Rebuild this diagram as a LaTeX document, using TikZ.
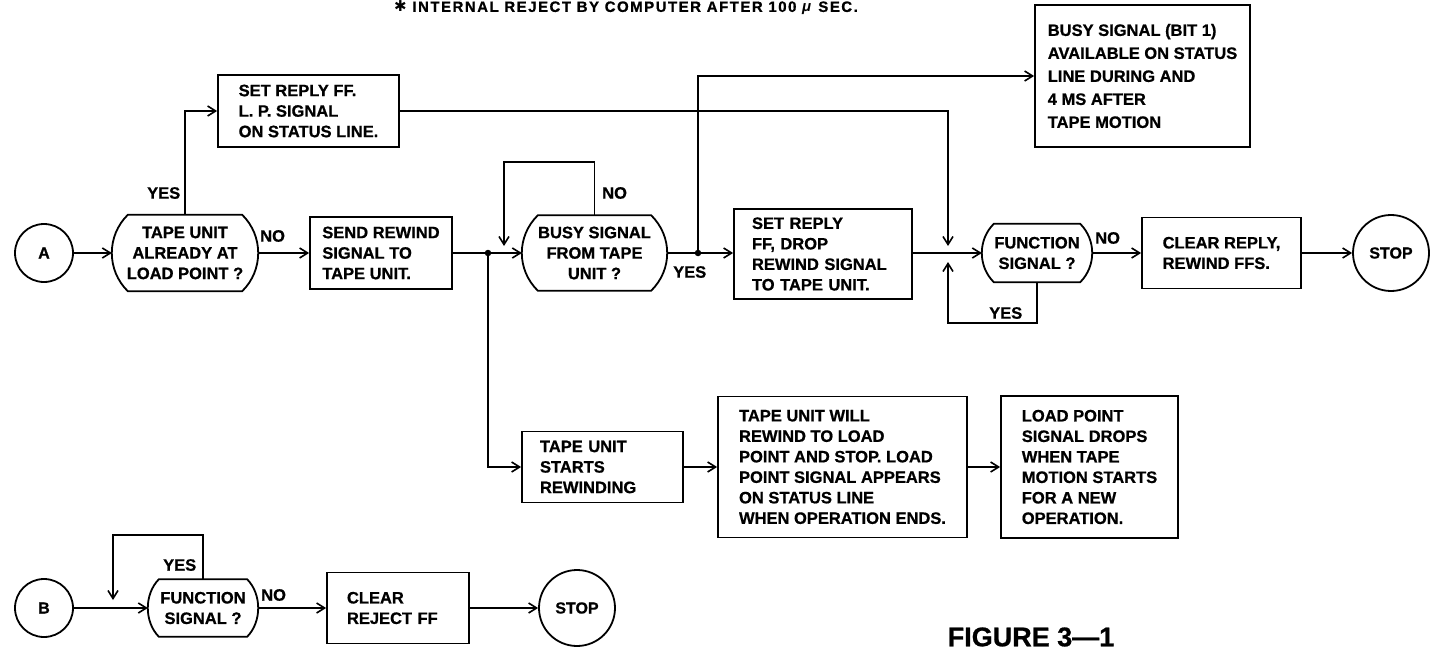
\documentclass[tikz,border=0pt]{standalone}
\usepackage{fontspec}
\setmainfont{Liberation Sans}[BoldFeatures={FakeBold=0.8}]
\newfontfamily\symfont{DejaVu Sans}
\newfontfamily\titlefont{Liberation Sans}[LetterSpace=10,BoldFeatures={FakeBold=0.8}]
\usetikzlibrary{arrows.meta,calc}
\tikzset{
  every node/.style={font=\bfseries\fontsize{16.5}{20.5}\selectfont},
  ln/.style={line width=1.8pt},
  arr/.style={ln, -{Straight Barb[length=8pt,width=10pt,line width=1.6pt]}},
  term/.style={draw, ln, circle, inner sep=0pt, font=\bfseries\fontsize{16}{19}\selectfont},
  box/.style={draw, ln, align=left, inner ysep=0pt},
  dec/.style={inner sep=0pt, align=center},
  lab/.style={inner sep=0pt, anchor=west},
  jdot/.style={circle, fill, inner sep=0pt, minimum size=6.5pt},
}
\newcommand\decout[3]{%
  \draw[ln] ($(#1.north west)+(#2,0)$) -- ($(#1.north east)+(-#2,0)$)
    .. controls ($(#1.north east)+(#2/3,#3)$) and ($(#1.south east)+(#2/3,-#3)$) .. ($(#1.south east)+(-#2,0)$)
    -- ($(#1.south west)+(#2,0)$)
    .. controls ($(#1.south west)+(-#2/3,-#3)$) and ($(#1.north west)+(-#2/3,#3)$) .. cycle;}
\begin{document}
\begin{tikzpicture}[x=1pt,y=-1pt]
\useasboundingbox (0,0) rectangle (1437,655);
\fill[white] (0,0) rectangle (1437,655);

% title
\node[font=\titlefont\bfseries\fontsize{15}{18}\selectfont] (title) at (626,8) {{\symfont\mdseries ✱} INTERNAL REJECT BY COMPUTER AFTER 100 \textit{μ} SEC.};

% main row
\node[term, minimum size=58pt] (A) at (44,253) {A};
\node[dec, minimum width=146pt, minimum height=76pt] (d1) at (185,253) {TAPE UNIT\\ALREADY AT\\LOAD POINT ?};
\decout{d1}{16}{21}
\node[box, minimum width=181pt, minimum height=72pt] (lp) at (308.5,111) {SET REPLY FF.\\L. P. SIGNAL\\ON STATUS LINE.};
\node[box, minimum width=142pt, minimum height=72pt] (send) at (381,253) {SEND REWIND\\SIGNAL TO\\TAPE UNIT.};
\node[jdot] (j1) at (488,253) {};
\node[dec, minimum width=145pt, minimum height=75pt] (busy) at (594.5,253) {BUSY SIGNAL\\FROM TAPE\\UNIT ?};
\decout{busy}{16}{21}
\node[jdot] (j2) at (698,253) {};
\node[box, minimum width=215pt, minimum height=142pt, font=\bfseries\fontsize{16.5}{23}\selectfont] (bit) at (1142.5,76) {BUSY SIGNAL (BIT 1)\\AVAILABLE ON STATUS\\LINE DURING AND\\4 MS AFTER\\TAPE MOTION};
\node[box, minimum height=90pt, text width=142pt, inner xsep=18pt] (drop) at (823,254) {SET REPLY\\FF, DROP\\REWIND SIGNAL\\TO TAPE UNIT.};
\node[dec, minimum width=110pt, minimum height=58pt] (fn) at (1037,253) {FUNCTION\\SIGNAL ?};
\decout{fn}{12}{16}
\node[box, minimum width=159pt, minimum height=71pt] (clr) at (1221.5,253) {CLEAR REPLY,\\REWIND FFS.};
\node[term, minimum size=76pt] (stop) at (1391,253) {STOP};

% lower row
\node[box, minimum height=71pt, text width=125pt, inner xsep=18pt] (rw) at (602.5,467) {TAPE UNIT\\STARTS\\REWINDING};
\node[box, minimum width=249pt, minimum height=141pt] (big) at (842.5,467) {TAPE UNIT WILL\\REWIND TO LOAD\\POINT AND STOP. LOAD\\POINT SIGNAL APPEARS\\ON STATUS LINE\\WHEN OPERATION ENDS.};
\node[box, minimum width=177pt, minimum height=142pt] (lpd) at (1089.5,467) {LOAD POINT\\SIGNAL DROPS\\WHEN TAPE\\MOTION STARTS\\FOR A NEW\\OPERATION.};

% B row
\node[term, minimum size=58pt] (B) at (44,608) {B};
\node[dec, minimum width=110pt, minimum height=57pt] (fnb) at (203,608) {FUNCTION\\SIGNAL ?};
\decout{fnb}{11}{15}
\node[box, minimum height=71pt, text width=102pt, inner xsep=20pt] (crj) at (398,608) {CLEAR\\REJECT FF};
\node[term, minimum size=76pt] (stopb) at (577,608) {STOP};

\node[font=\bfseries\fontsize{27}{30}\selectfont] (fig) at (1031,637) {FIGURE 3—1};

% labels
\node[lab] (yes1) at (147,193) {YES};
\node[lab] (no1) at (260,236) {NO};
\node[lab] (no2) at (602,193) {NO};
\node[lab] (yes2) at (673,272) {YES};
\node[lab] (yes3) at (989,313) {YES};
\node[lab] (no3) at (1095,238) {NO};
\node[lab] (yes4) at (163,565) {YES};
\node[lab] (no4) at (261,595) {NO};

% free ends
\coordinate (c1) at (948,246);
\coordinate (c2) at (504,246);
\coordinate (c3) at (948,262);
\coordinate (c4) at (113,600);

% connectors main
\draw[arr] (A) -- (d1);
\draw[arr] (d1) -- (send);
\draw[ln] (send) -- (j1);
\draw[arr] (j1) -- (busy);
\draw[ln] (busy) -- (j2);
\draw[arr] (j2) -- (drop.west |- j2);
\draw[arr] (drop.east |- fn.west) -- (fn.west);
\draw[arr] (fn) -- (clr);
\draw[arr] (clr) -- (stop);
\draw[arr] (d1.north) |- (lp.west);
\draw[arr] (lp.east) -| (c1);
\draw[arr] (j2) |- (bit.west);
\draw[arr] (busy.north) -- ++(0,-53) -| (c2);
\draw[arr] (fn.south) -- ++(0,41) -| (c3);
% lower
\draw[arr] (j1) |- (rw.west);
\draw[arr] (rw) -- (big);
\draw[arr] (big) -- (lpd);
% B row
\draw[arr] (B) -- (fnb);
\draw[arr] (fnb) -- (crj);
\draw[arr] (crj) -- (stopb);
\draw[arr] (fnb.north) -- ++(0,-44) -| (c4);
\end{tikzpicture}
\end{document}
